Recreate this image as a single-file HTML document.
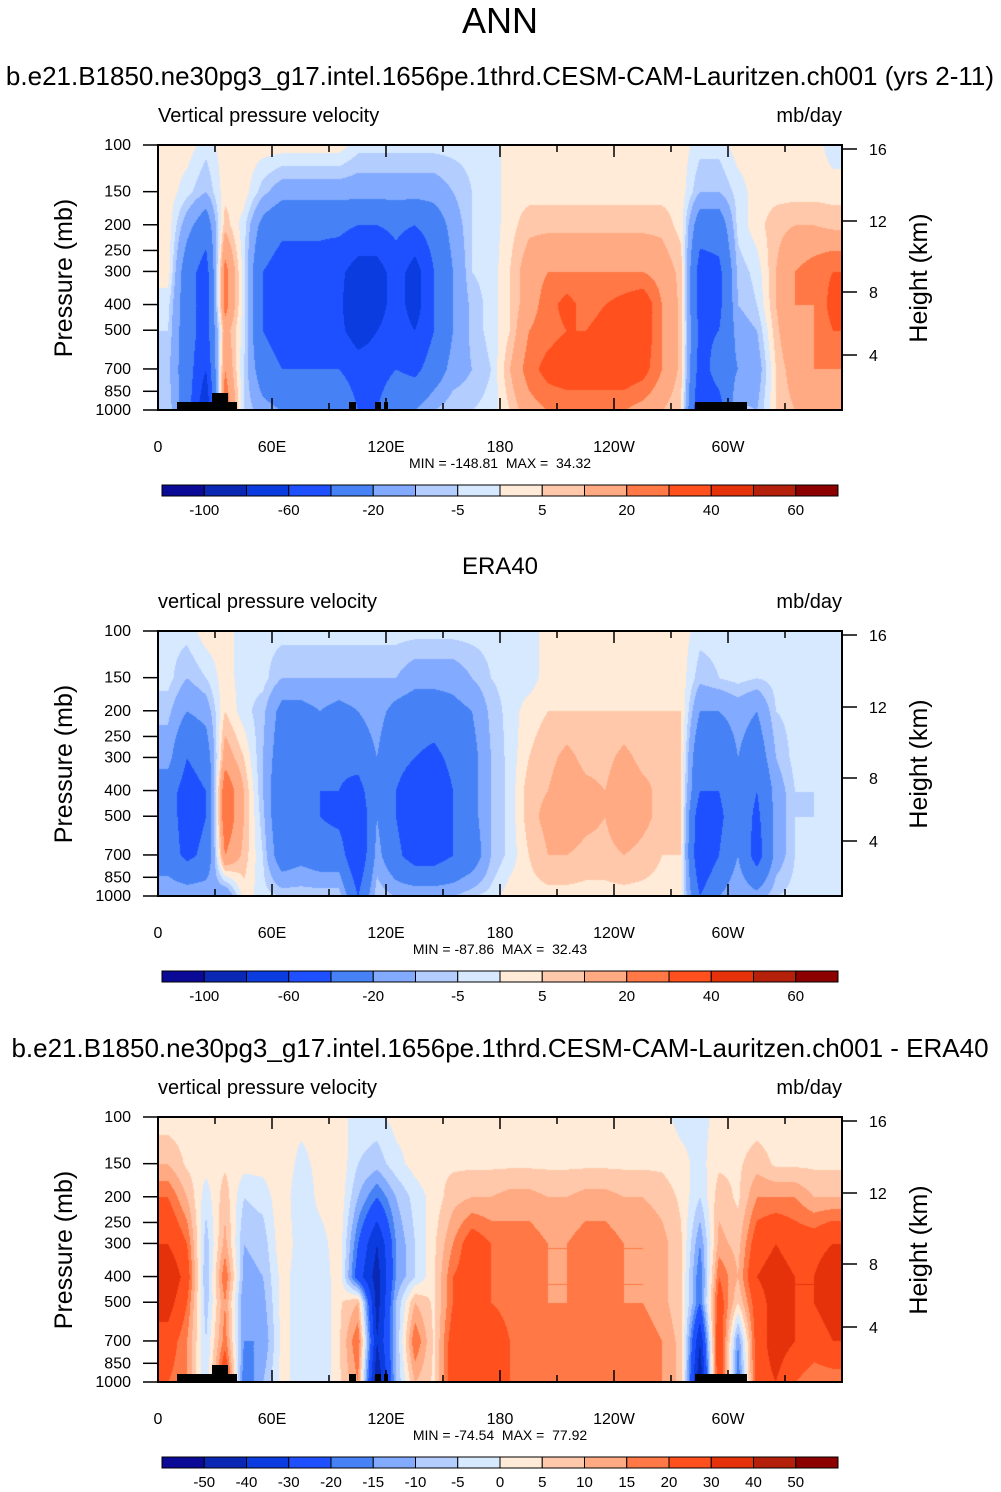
<!DOCTYPE html>
<html><head><meta charset="utf-8"><style>
body{margin:0;background:#fff;width:1001px;height:1492px;position:relative;overflow:hidden;font-family:"Liberation Sans",sans-serif}
canvas{position:absolute}
svg{position:absolute;left:0;top:0}
</style></head><body>
<canvas id="c0" width="684" height="265" style="left:158px;top:145px"></canvas>
<canvas id="c1" width="684" height="265" style="left:158px;top:631px"></canvas>
<canvas id="c2" width="684" height="265" style="left:158px;top:1117px"></canvas>
<svg id="s" width="1001" height="1492"></svg>
<script>
const levelsP=[100,150,200,300,400,500,700,1000];
const lonNodes=[5,15,25,35,45,55,65,75,85,95,105,115,125,135,145,155,165,175,185,195,205,215,225,235,245,255,265,275,285,295,305,315,325,335,345,355];
const modelVals=[
[3,3,-3,3,3,3,3,3,3,3,-3,-3,-3,-3,-3,-3,-3,-3,3,3,3,3,3,3,3,3,3,3,-3,-3,3,3,3,3,3,-3],
[3,-3,-10,3,3,-8,-15,-15,-15,-15,-15,-15,-15,-15,-15,-10,-5,-3,3,3,3,3,3,3,3,3,3,3,-10,-10,-3,3,3,3,3,3],
[3,-15,-30,8,-3,-25,-35,-35,-35,-35,-40,-40,-35,-40,-30,-15,-5,-3,3,8,8,8,8,8,8,8,8,3,-30,-30,-3,3,8,10,10,8],
[3,-30,-50,25,-3,-40,-50,-50,-50,-55,-70,-70,-50,-70,-40,-20,-5,-3,5,15,20,20,20,20,20,20,15,8,-50,-45,-8,-3,10,20,25,30],
[-3,-30,-50,25,-3,-40,-50,-50,-50,-55,-80,-70,-50,-70,-40,-20,-8,-3,5,15,25,35,25,30,35,40,20,8,-50,-45,-10,-5,10,20,20,35],
[-5,-30,-50,15,-3,-40,-50,-50,-50,-55,-70,-60,-50,-60,-40,-20,-8,-3,5,20,25,30,30,35,40,40,20,8,-45,-40,-15,-10,8,20,20,30],
[-8,-30,-60,20,-5,-30,-40,-40,-40,-40,-50,-50,-40,-45,-30,-15,-10,-5,10,25,35,40,40,40,40,35,20,8,-50,-30,-20,-15,5,15,20,20],
[-5,-30,-80,30,-5,-15,-20,-20,-20,-20,-40,-40,-20,-20,-10,-5,-5,-3,5,15,20,20,20,20,20,15,10,5,-60,-50,-8,-10,5,10,10,10]];
const eraVals=[
[-3,-3,3,3,-3,-3,-3,-3,-3,-3,-3,-3,-3,-3,-3,-3,-3,-3,-3,-3,3,3,3,3,3,3,3,3,-3,-3,-3,-3,-3,-3,-3,-3],
[-3,-10,-5,3,-3,-3,-10,-10,-10,-10,-10,-10,-10,-15,-15,-15,-10,-5,-3,-3,3,3,3,3,3,3,3,3,-8,-5,-3,-5,-3,-3,-3,-3],
[-8,-20,-15,5,-3,-8,-25,-25,-20,-25,-20,-15,-25,-30,-30,-25,-20,-8,-3,3,5,5,5,5,5,5,5,5,-20,-20,-15,-20,-5,-3,-3,-3],
[-15,-40,-30,15,5,-10,-30,-30,-30,-35,-30,-20,-35,-40,-45,-35,-25,-10,-3,5,8,12,8,8,12,8,8,5,-35,-35,-20,-30,-10,-3,-5,-3],
[-30,-50,-40,30,10,-10,-35,-35,-40,-40,-50,-20,-40,-50,-55,-40,-25,-10,-3,8,10,15,12,10,15,12,8,5,-40,-40,-25,-40,-15,-5,-5,-3],
[-30,-50,-40,30,10,-8,-35,-35,-40,-45,-60,-20,-40,-55,-55,-40,-25,-10,-3,8,12,15,12,10,15,12,8,5,-55,-45,-25,-45,-15,-5,-5,-3],
[-30,-45,-35,20,8,-5,-30,-25,-30,-30,-60,-15,-35,-50,-50,-40,-30,-10,-3,5,10,10,8,8,10,8,5,5,-60,-40,-20,-50,-15,-5,-3,-3],
[-10,-10,-10,-20,3,-3,-5,-5,-5,-5,-40,-5,-10,-10,-10,-10,-5,-3,3,3,3,3,3,3,3,3,3,3,-40,-20,-10,-15,-5,-3,-3,-3]];
const diffVals=[
[2,2,2,2,2,2,2,2,2,2,-2,-2,2,2,2,2,2,2,2,2,2,2,2,2,2,2,2,-2,-2,2,2,2,2,2,2,2],
[10,4,2,4,2,2,4,-2,2,4,-5,-8,-2,2,4,4,4,4,4,4,4,4,4,4,4,4,4,2,-2,4,4,8,4,4,4,4],
[20,10,-3,8,-5,-3,4,-5,2,4,-10,-20,-10,-3,2,8,10,10,12,12,10,10,12,12,10,10,8,4,-5,8,4,15,15,15,10,10],
[30,20,-8,12,-10,-8,4,-3,-3,4,-20,-40,-15,-5,4,15,25,20,18,18,15,15,18,18,15,15,12,6,-15,12,8,25,30,25,25,30],
[40,25,-10,20,-12,-10,2,-3,-5,4,-25,-45,-15,-5,4,20,25,20,18,18,15,15,18,18,15,15,12,6,-20,20,10,30,35,30,30,40],
[35,20,-8,15,-15,-12,2,-3,-5,4,10,-45,-10,10,4,20,25,20,18,18,15,15,18,18,15,15,12,6,-20,25,5,25,35,30,30,35],
[25,15,-5,18,-15,-15,2,-3,-5,4,20,-40,-10,20,4,25,30,25,20,18,18,18,20,20,18,18,15,8,-40,30,-15,25,35,30,25,30],
[20,15,-5,30,-20,-10,2,-3,-5,4,15,-50,-10,10,4,25,30,25,20,18,18,18,20,20,18,18,15,8,-50,30,-20,25,30,20,15,15]];
const levA=[-100,-80,-60,-40,-20,-10,-5,0,5,10,20,30,40,50,60];
const levB=[-50,-40,-30,-20,-15,-10,-5,0,5,10,15,20,30,40,50];
const labA=["-100","-60","-20","-5","5","20","40","60"];
const labAidx=[0,2,4,6,8,10,12,14];
const labB=["-50","-40","-30","-20","-15","-10","-5","0","5","10","15","20","30","40","50"];
const pTicks=[100,150,200,250,300,400,500,700,850,1000];
const hTicks=[16,12,8,4];
const hTickY=[4,76,147,210];
const lonTicks=["0","60E","120E","180","120W","60W"];
const minmax=["MIN = -148.81\u00a0 MAX = \u00a034.32","MIN = -87.86\u00a0 MAX = \u00a032.43","MIN = -74.54\u00a0 MAX = \u00a077.92"];
const cols=["#0a0a96","#0a28b4","#0a3ce0","#1e50ff","#4682f5","#82aaff","#b4cdff","#d7e9ff","#ffebd7","#ffc8aa","#ffaa82","#ff7846","#ff501e","#e6320a","#b4200a","#8c0000"];
const W=684,H=265,X0=158;
const xOf=lon=>X0+lon/360*W;
const yOf=(p,top)=>top+Math.log10(p/100)*H;
const lp=levelsP.map(p=>Math.log10(p));
function drawField(id,vals,lev){
  const cv=document.getElementById(id),ctx=cv.getContext('2d');
  const img=ctx.createImageData(W,H);
  const rgb=cols.map(c=>[parseInt(c.slice(1,3),16),parseInt(c.slice(3,5),16),parseInt(c.slice(5,7),16)]);
  for(let y=0;y<H;y++){
    const l=2+y/H; let j=0; while(j<lp.length-2&&l>lp[j+1])j++;
    const ty=Math.min(1,Math.max(0,(l-lp[j])/(lp[j+1]-lp[j])));
    for(let x=0;x<W;x++){
      const lon=x/W*360; let f=(lon-lonNodes[0])/10; f=Math.max(0,Math.min(lonNodes.length-1.0001,f));
      const i=Math.floor(f),tx=f-i;
      const a=vals[j][i]*(1-tx)+vals[j][i+1]*tx, b=vals[j+1][i]*(1-tx)+vals[j+1][i+1]*tx;
      const v=a*(1-ty)+b*ty; let k=0; while(k<lev.length&&v>lev[k])k++;
      const o=(y*W+x)*4; img.data[o]=rgb[k][0];img.data[o+1]=rgb[k][1];img.data[o+2]=rgb[k][2];img.data[o+3]=255;
    }
  }
  ctx.putImageData(img,0,0);
}
drawField('c0',modelVals,levA);drawField('c1',eraVals,levA);drawField('c2',diffVals,levB);
const S=document.getElementById('s');const NS="http://www.w3.org/2000/svg";
function el(t,at,txt){const e=document.createElementNS(NS,t);for(const k in at)e.setAttribute(k,at[k]);if(txt!==undefined)e.textContent=txt;S.appendChild(e);return e;}
let e=el('text',{x:500,y:33,'font-size':36,'text-anchor':'middle'},'ANN');


const subs=[[500,85,"b.e21.B1850.ne30pg3_g17.intel.1656pe.1thrd.CESM-CAM-Lauritzen.ch001 (yrs 2-11)",26],[500,574,"ERA40",24],[500,1057,"b.e21.B1850.ne30pg3_g17.intel.1656pe.1thrd.CESM-CAM-Lauritzen.ch001 - ERA40",26]];
const vt=["Vertical pressure velocity","vertical pressure velocity","vertical pressure velocity"];
for(let q=0;q<3;q++){
  const top=145+486*q;
  e=el('text',{x:subs[q][0],y:subs[q][1],'font-size':subs[q][3],'text-anchor':'middle'},subs[q][2]);
  
  
  e=el('text',{x:158,y:top-23,'font-size':20},vt[q]);
  
  
  e=el('text',{x:842,y:top-23,'font-size':20,'text-anchor':'end'},'mb/day');
  
  
  if(q!==1){
    const tb=[[177,402,60,8],[212,393,16,9],[349,402,7,8],[375,402,6,8],[384,402,4,8],[695,402,52,8]];
    tb.forEach(r=>{e=el('rect',{x:r[0],y:top+r[1]-145,width:r[2],height:r[3],fill:'#000'});
      
      });
  }
  e=el('rect',{x:158,y:top,width:W,height:H,fill:'none',stroke:'#000','stroke-width':2});
  
  
  pTicks.forEach(p=>{const y=yOf(p,top);
    e=el('line',{x1:143,x2:158,y1:y,y2:y,stroke:'#000','stroke-width':1.5});
    
    
    e=el('text',{x:131,y:y+5,'font-size':16,'text-anchor':'end'},String(p));
    
    });
  hTicks.forEach((h,i)=>{const y=top+hTickY[i];
    e=el('line',{x1:842,x2:857,y1:y,y2:y,stroke:'#000','stroke-width':1.5});
    
    
    e=el('text',{x:869,y:y+6,'font-size':16},String(h));
    
    });
  for(let lon=0;lon<=360;lon+=30){const x=xOf(lon),L=lon%60?7:12;
    e=el('line',{x1:x,x2:x,y1:top+H,y2:top+H-L,stroke:'#000','stroke-width':1.5});
    
    
    e=el('line',{x1:x,x2:x,y1:top,y2:top+L,stroke:'#000','stroke-width':1.5});
    
    }
  lonTicks.forEach((t,i)=>{e=el('text',{x:xOf(i*60),y:top+H+42,'font-size':16,'text-anchor':'middle'},t);
    
    });
  e=el('text',{x:500,y:top+H+58,'font-size':14,'text-anchor':'middle'},minmax[q]);
  
  
  e=el('text',{x:0,y:0,'font-size':25,'text-anchor':'middle',transform:`translate(72,${top+133}) rotate(-90)`},'Pressure (mb)');
  
  
  e=el('text',{x:0,y:0,'font-size':25,'text-anchor':'middle',transform:`translate(927,${top+133}) rotate(-90)`},'Height (km)');
  
  
  const cy=top+340,bw=676/16;
  for(let k=0;k<16;k++){e=el('rect',{x:162+k*bw,y:cy,width:bw,height:11,fill:cols[k],stroke:'#000','stroke-width':1});
    
    }
  if(q<2){labA.forEach((t,i)=>{e=el('text',{x:162+(labAidx[i]+1)*bw,y:cy+30,'font-size':15,'text-anchor':'middle'},t);
    
    });}
  else{labB.forEach((t,i)=>{e=el('text',{x:162+(i+1)*bw,y:cy+30,'font-size':15,'text-anchor':'middle'},t);
    
    });}
}
</script>
</body></html>
